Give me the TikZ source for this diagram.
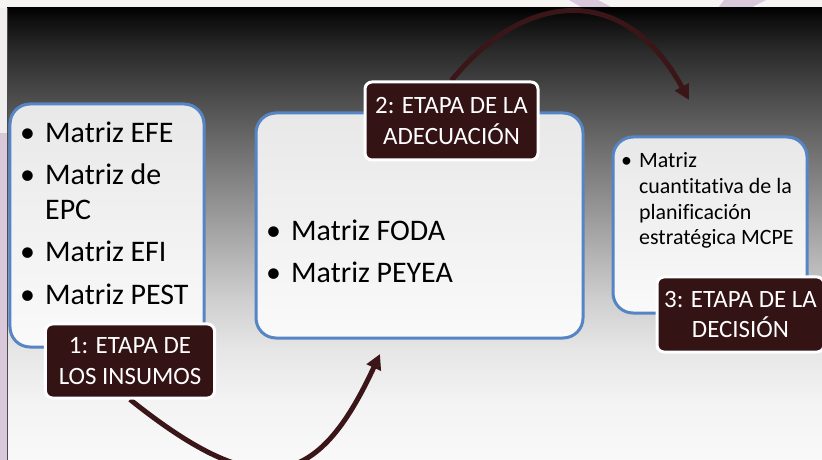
\documentclass[tikz,border=0pt]{standalone}
\usepackage{fontspec}
\setmainfont{Carlito}[Ligatures={NoCommon,NoRare}]
\usetikzlibrary{arrows.meta}
\definecolor{lblred}{HTML}{341315}
\definecolor{arrred}{HTML}{3A1618}
\definecolor{boxblue}{HTML}{5585C4}
\definecolor{lav}{HTML}{D9C8DA}
\definecolor{topstrip}{HTML}{F6F3F3}
\definecolor{leftlight}{HTML}{EFEDED}
\pgfdeclareverticalshading{panelshade}{100bp}{%
rgb(0bp)=(0.975,0.975,0.975);
rgb(25bp)=(0.975,0.975,0.975);
rgb(31.64bp)=(0.953,0.953,0.953);
rgb(37.17bp)=(0.902,0.902,0.902);
rgb(42.70bp)=(0.812,0.812,0.812);
rgb(48.23bp)=(0.69,0.69,0.69);
rgb(53.76bp)=(0.565,0.565,0.565);
rgb(59.29bp)=(0.439,0.439,0.439);
rgb(64.82bp)=(0.306,0.306,0.306);
rgb(70.35bp)=(0.165,0.165,0.165);
rgb(74.23bp)=(0.04,0.04,0.04);
rgb(75bp)=(0,0,0);
rgb(100bp)=(0,0,0)}
\pgfdeclarelayer{bg}
\pgfdeclarelayer{arr}
\pgfsetlayers{bg,arr,main}
\newcommand\mybul[2]{\makebox[#1][l]{\textbullet}#2}
\tikzset{
  mbox/.style={draw=boxblue, line width=3bp, rounded corners=20bp,
    top color=white!91!black, bottom color=white!98!black, inner sep=0pt},
  stage/.style={fill=lblred, draw=white, line width=3bp, rounded corners=7bp,
    text=white, align=center, inner sep=0pt,
    font=\fontsize{25}{31}\selectfont},
  btext/.style={anchor=north west, align=left, inner sep=0pt, text=black},
  flow/.style={draw=arrred, line width=5bp, -{Triangle[length=15bp,width=15bp]}}
}
\begin{document}
\begin{tikzpicture}[x=1bp,y=-1bp]
\useasboundingbox (0,0) rectangle (822,460);
\begin{pgfonlayer}{bg}
  \fill[topstrip] (0,0) rectangle (822,8);
  \fill[lav] (569,0) -- (598,0) -- (613,8) -- (583,8) -- cycle;
  \fill[lav] (724,0) -- (766,0) -- (750,8) -- (718,8) -- cycle;
  \fill[leftlight] (0,8) rectangle (7,133);
  \fill[lav] (0,133) rectangle (7,460);
  \shade[shading=panelshade] (7,8) rectangle (822,460);
  \draw[gray!60!black, line width=1bp] (7,8) -- (7,460);
\end{pgfonlayer}

% content boxes
\node[mbox, minimum width=194bp, minimum height=243bp] (b1) at (107,225.5) {};
\node[mbox, minimum width=327bp, minimum height=225bp] (b2) at (419.5,225.5) {};
\node[mbox, minimum width=194bp, minimum height=176bp] (b3) at (710,225) {};

% box texts
\node[btext, font=\fontsize{30}{35}\selectfont] (t1) at (20,117)
  {\rule{0pt}{25bp}\mybul{25bp}{Matriz EFE}\\[7.5bp]
   \mybul{25bp}{Matriz de}\\
   \hspace*{25bp}EPC\\[7.5bp]
   \mybul{25bp}{Matriz EFI}\\[7.5bp]
   \mybul{25bp}{Matriz PEST}};
\node[btext, font=\fontsize{30}{35}\selectfont] (t2) at (266,215)
  {\rule{0pt}{25bp}\mybul{25bp}{Matriz FODA}\\[7bp]
   \mybul{25bp}{Matriz PEYEA}};
\node[btext, font=\fontsize{22}{26}\selectfont] (t3) at (621,148)
  {\rule{0pt}{19bp}\mybul{18bp}{Matriz}\\
   \hspace*{18bp}cuantitativa de la\\
   \hspace*{18bp}planificación\\
   \hspace*{18bp}estratégica MCPE};

% stage labels
\node[stage, minimum width=169bp, minimum height=74bp] (l1) at (130,361) {1: ETAPA DE\\LOS INSUMOS};
\node[stage, minimum width=173bp, minimum height=78bp] (l2) at (451.5,121) {2: ETAPA DE LA\\ADECUACIÓN};
\node[stage, minimum width=167bp, minimum height=75bp] (l3) at (740.5,314.5) {3: ETAPA DE LA\\DECISIÓN};

% arrows
\coordinate (a1end) at (380,354);
\coordinate (a2end) at (689,100);
\begin{pgfonlayer}{arr}
  \draw[flow] (l1.south) .. controls (262,505) and (318,488) .. (a1end);
  \draw[flow] (l2.north) .. controls (524,-9) and (624,-19) .. (a2end);
\end{pgfonlayer}
\end{tikzpicture}
\end{document}
